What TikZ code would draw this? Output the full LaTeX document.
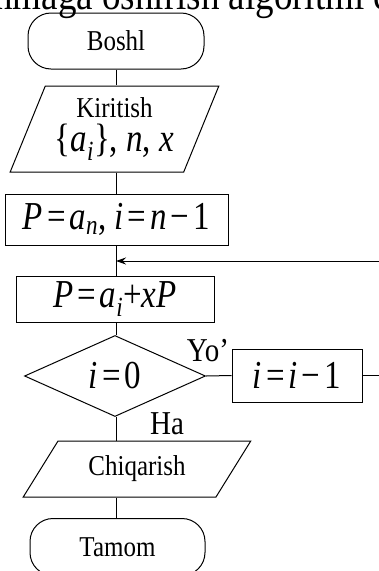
\documentclass[tikz,border=0pt]{standalone}
\usepackage{fontspec}
\usepackage{graphicx}
\setmainfont{Liberation Serif}
\usetikzlibrary{shapes.geometric,arrows.meta}
\newcommand{\mt}[1]{\scalebox{1}[1.2]{\fontsize{33}{36}\selectfont #1}}
\newcommand{\tx}[1]{\scalebox{1}[1.15]{#1}}
\newcommand{\eqs}{\kern4pt=\kern4pt}
\newcommand{\mns}{\kern4pt−\kern4pt}
\begin{document}
\begin{tikzpicture}[x=1pt,y=-1pt,
  line width=1pt,
  txt/.style={font=\fontsize{25}{28}\selectfont, inner sep=0pt},
  term/.style={draw, rounded corners=23pt, inner sep=0pt, txt},
  boxstyle/.style={draw, rectangle, inner sep=0pt, txt},
  io/.style={draw, trapezium, trapezium stretches=true, inner sep=0pt, txt, align=center},
  decide/.style={draw, diamond, inner sep=0pt, txt},
  lbl/.style={font=\fontsize{29}{32}\selectfont, inner sep=0pt}]
\useasboundingbox (0,0) rectangle (379,571);
\clip (0,0) rectangle (379,571);
\node[anchor=base west, font=\fontsize{37}{40}\selectfont, inner sep=0pt] (title) at (-6,9) {\scalebox{1}[1.15]{nmaga oshirish algoritmi c}};
\coordinate (mx) at (116,0);
\node[term, minimum width=176pt, minimum height=56pt] (start) at (116,41) {\tx{Boshl}};
\node[io, trapezium left angle=64, trapezium right angle=116, minimum width=209pt, minimum height=86pt] (inp) at (114.5,129) {\tx{Kiritish}\\[6pt]\mt{\{\textit{a}\textsubscript{\textit{i}}\}, \textit{n}, \textit{x}}};
\node[boxstyle, minimum width=223pt, minimum height=51pt] (b1) at (116.5,219.5) {\mt{\textit{P}\eqs\textit{a}\textsubscript{\textit{n}}, \textit{i}\eqs\textit{n}\mns1}};
\node[boxstyle, minimum width=198pt, minimum height=46pt] (b2) at (115,299) {\mt{\textit{P}\eqs\textit{a}\textsubscript{\textit{i}}+\textit{xP}}};
\node[decide, minimum width=181pt, minimum height=81pt, aspect=2.23] (dec) at (115,376) {\mt{\textit{i}\eqs0}};
\node[boxstyle, minimum width=130pt, minimum height=53pt] (inc) at (297,375.5) {\mt{\textit{i}\eqs\textit{i}\mns1}};
\node[io, trapezium left angle=50.6, trapezium right angle=129.4, minimum width=228pt, minimum height=56pt] (out) at (137,469) {\tx{Chiqarish}};
\node[term, minimum width=175pt, minimum height=57pt] (stop) at (117.5,547) {\tx{Tamom}};
\node[lbl] (yes) at (208,351) {\tx{Yo’}};
\node[lbl] (ha) at (167,424) {\tx{Ha}};
\coordinate (j) at (116,261);
\draw (mx |- start.south) -- (mx |- inp.north);
\draw (mx |- inp.south) -- (mx |- b1.north);
\draw (mx |- b1.south) -- (mx |- b2.north);
\draw (mx |- b2.south) -- (mx |- dec.north);
\draw (mx |- dec.south) -- (mx |- out.north);
\draw (mx |- out.south) -- (mx |- stop.north);
\draw (dec.east) -- (inc.west);
\draw[-{Stealth[length=10pt,width=7pt]}] (inc.east) -- ++(40,0) |- (j);
\end{tikzpicture}
\end{document}
